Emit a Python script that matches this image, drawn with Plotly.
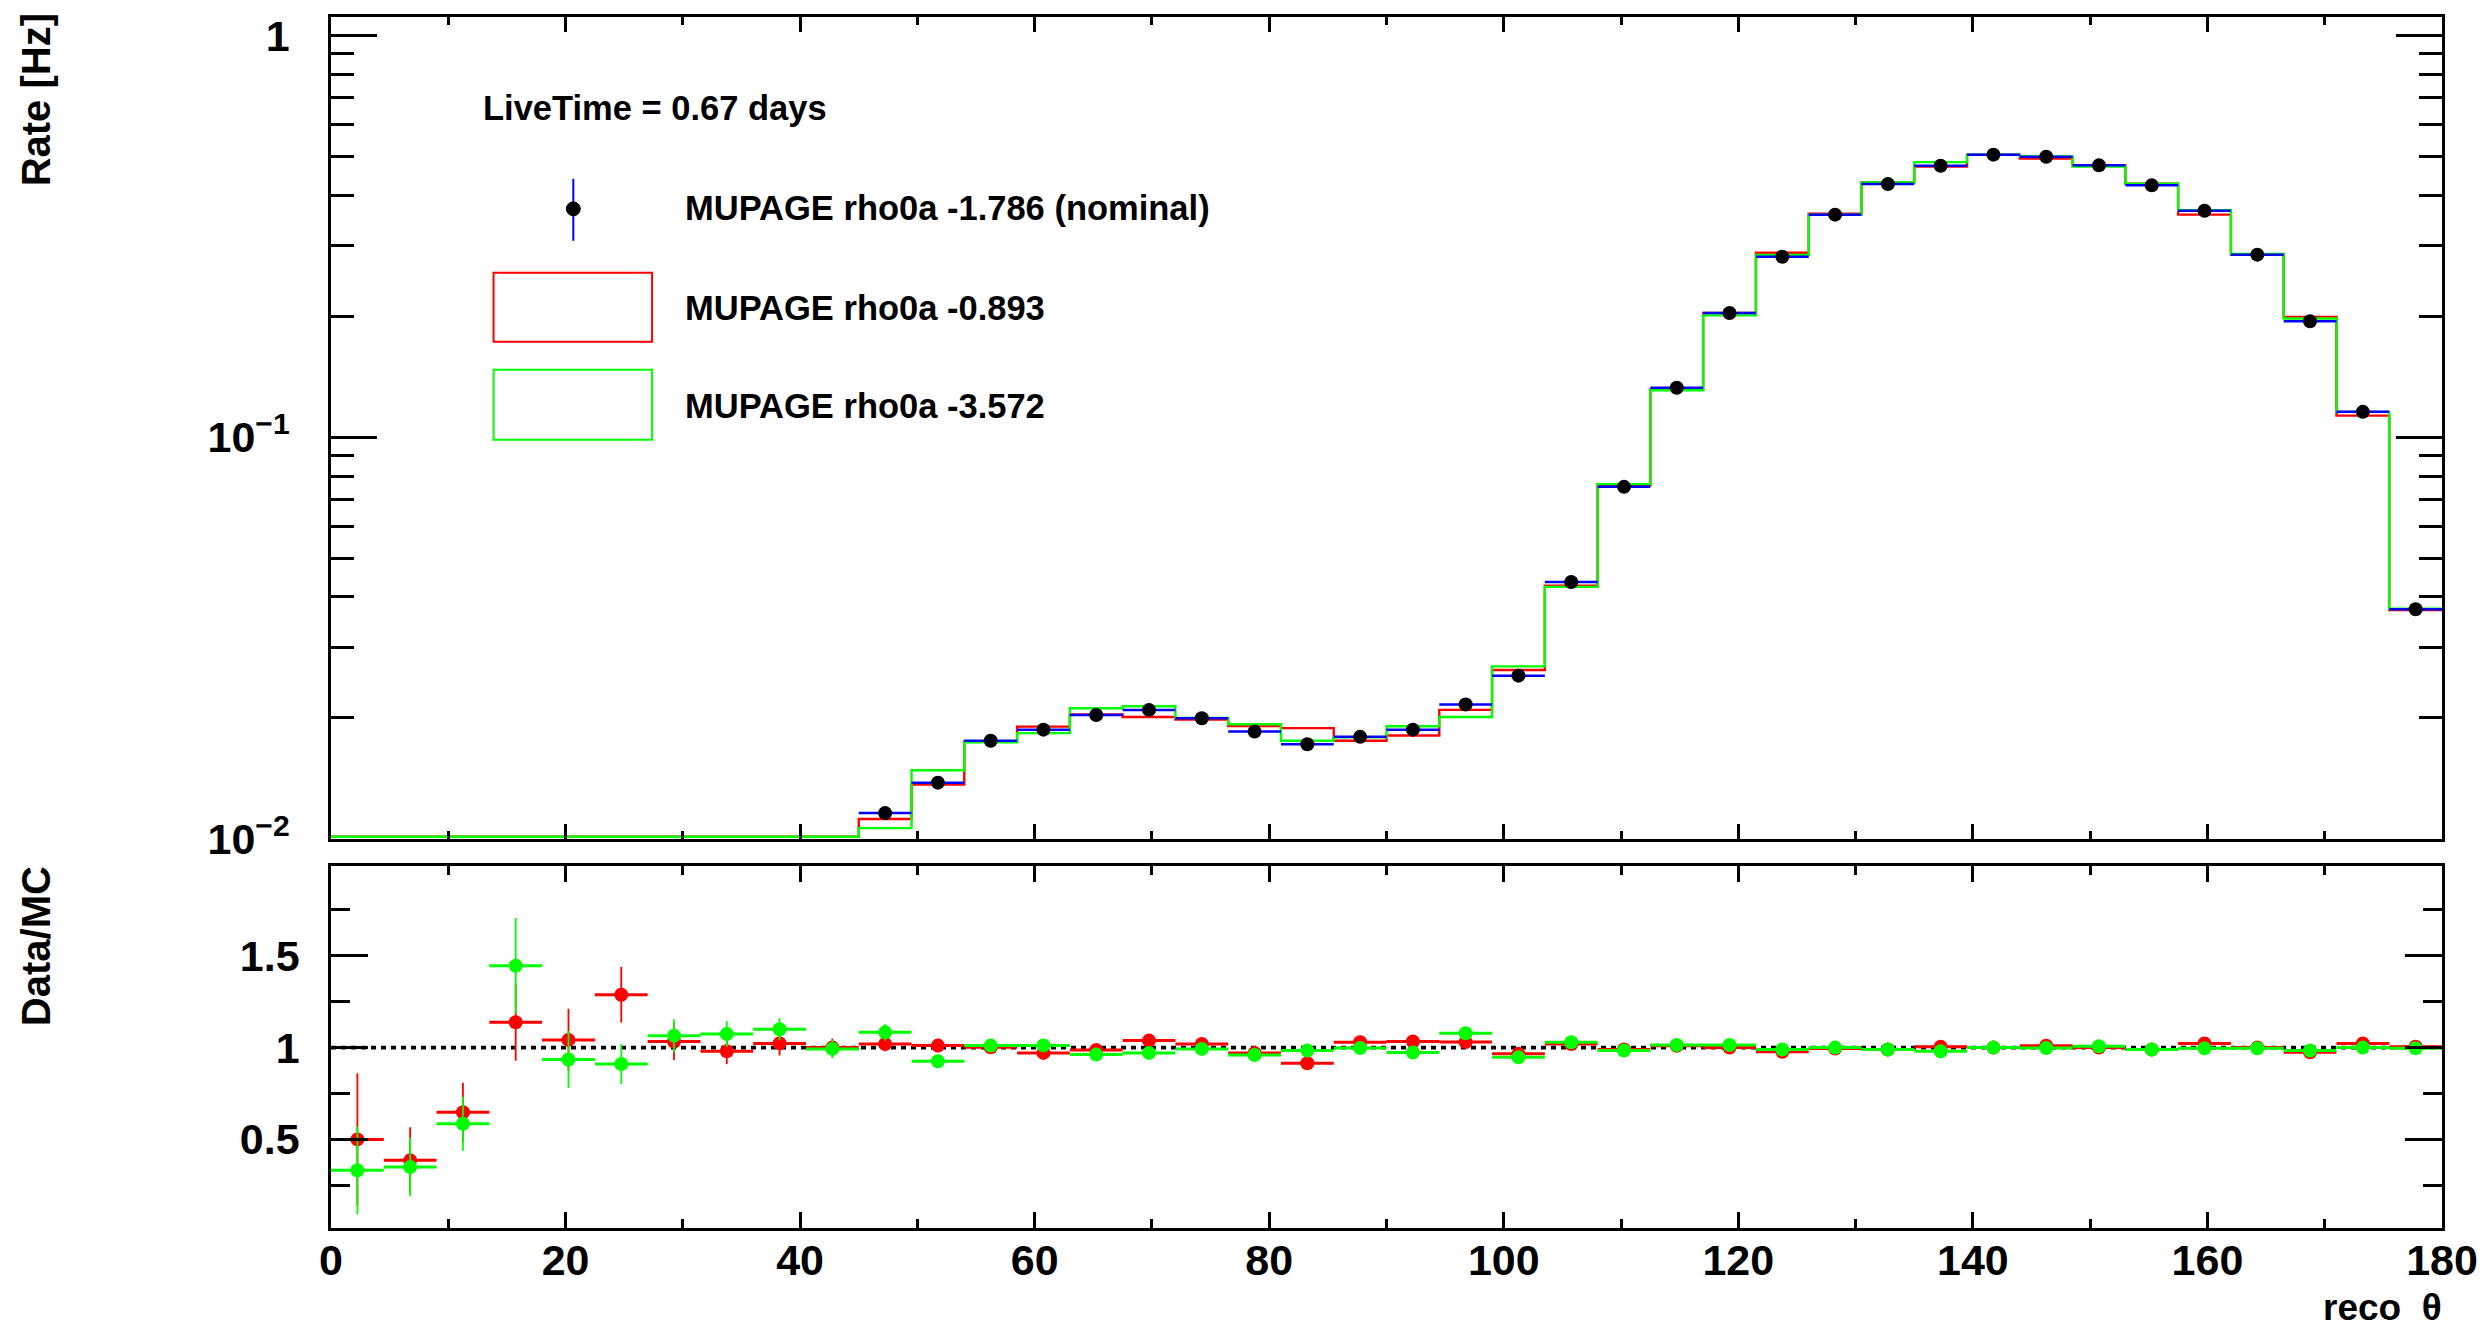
import numpy as np
import plotly.graph_objects as go

# ---------------- data ----------------
theta_lo, theta_hi, n_bins = 0.0, 180.0, 40
live_time_label = "LiveTime = 0.67 days"

rate_data = [3.5e-5, 8.0e-5, 2.8e-4, 5.3e-4, 6.4e-4, 1.2e-3, 1.8e-3, 3.4e-3, 4.1e-3, 6.9e-3,
             0.01159, 0.0138, 0.01754, 0.0187, 0.02034, 0.02094, 0.01996, 0.01849, 0.0172, 0.01794,
             0.0187, 0.0216, 0.02548, 0.0436, 0.0752, 0.1327, 0.2038, 0.2813, 0.358, 0.4266,
             0.474, 0.505, 0.499, 0.475, 0.4235, 0.366, 0.2847, 0.1943, 0.1156, 0.0373]
rate_data_err = [2.5e-5, 4e-5, 7e-5, 1e-4, 1.1e-4, 1.4e-4, 1.8e-4, 2.4e-4, 2.7e-4, 3.5e-4,
                 0.00045, 0.0005, 0.00055, 0.00057, 0.0006, 0.0006, 0.00059, 0.00057, 0.00055, 0.00056,
                 0.00057, 0.00061, 0.00066, 0.00087, 0.0011, 0.0015, 0.0019, 0.0022, 0.0025, 0.0027,
                 0.0029, 0.003, 0.003, 0.0029, 0.0027, 0.0025, 0.0022, 0.0018, 0.0014, 0.0008]
rate_red = [7.0e-5, 2.1e-4, 4.3e-4, 4.7e-4, 6.1e-4, 9.3e-4, 1.74e-3, 3.47e-3, 4.0e-3, 6.9e-3,
            0.0112, 0.01365, 0.0175, 0.01903, 0.0204, 0.0201, 0.0198, 0.0191, 0.01886, 0.01754,
            0.01808, 0.02094, 0.02632, 0.0427, 0.0760, 0.1314, 0.2038, 0.2879, 0.3598, 0.4309,
            0.4716, 0.505, 0.494, 0.475, 0.4278, 0.3581, 0.2847, 0.1993, 0.1131, 0.0371]
rate_green = [1.05e-4, 2.3e-4, 4.8e-4, 3.7e-4, 6.8e-4, 1.32e-3, 1.69e-3, 3.17e-3, 3.73e-3, 6.95e-3,
              0.01063, 0.01482, 0.0174, 0.01833, 0.02114, 0.02138, 0.0200, 0.01929, 0.01754, 0.0179,
              0.01906, 0.0201, 0.02688, 0.0424, 0.0764, 0.1309, 0.2010, 0.2841, 0.358, 0.4309,
              0.4837, 0.505, 0.500, 0.4717, 0.4278, 0.3675, 0.2858, 0.1975, 0.1156, 0.0374]

ratio_red = [0.50, 0.386, 0.648, 1.138, 1.042, 1.288, 1.033, 0.98, 1.023, 1.0,
             1.02, 1.011, 1.002, 0.971, 0.987, 1.038, 1.02, 0.97, 0.915, 1.029,
             1.033, 1.03, 0.966, 1.02, 0.99, 1.01, 1.0, 0.977, 0.995, 0.99,
             1.005, 1.0, 1.01, 1.0, 0.99, 1.022, 1.0, 0.975, 1.022, 1.005]
ratio_red_err = [0.36, 0.18, 0.16, 0.21, 0.17, 0.152, 0.10, 0.07, 0.066, 0.05,
                 0.04, 0.037, 0.034, 0.033, 0.032, 0.032, 0.033, 0.034, 0.034, 0.034,
                 0.033, 0.031, 0.028, 0.021, 0.016, 0.012, 0.01, 0.008, 0.008, 0.007,
                 0.007, 0.006, 0.006, 0.007, 0.007, 0.008, 0.009, 0.01, 0.013, 0.022]
ratio_green = [0.332, 0.35, 0.585, 1.446, 0.935, 0.911, 1.065, 1.074, 1.10, 0.993,
               1.083, 0.926, 1.011, 1.012, 0.962, 0.971, 0.993, 0.96, 0.984, 0.998,
               0.973, 1.078, 0.947, 1.029, 0.984, 1.014, 1.014, 0.99, 1.0, 0.99,
               0.98, 1.0, 0.998, 1.007, 0.99, 0.996, 0.996, 0.984, 1.0, 0.996]
ratio_green_err = [0.24, 0.16, 0.147, 0.26, 0.155, 0.11, 0.09, 0.07, 0.06, 0.05,
                   0.045, 0.036, 0.034, 0.033, 0.032, 0.032, 0.033, 0.034, 0.034, 0.034,
                   0.033, 0.031, 0.028, 0.021, 0.016, 0.012, 0.01, 0.008, 0.008, 0.007,
                   0.007, 0.006, 0.006, 0.007, 0.007, 0.008, 0.009, 0.01, 0.013, 0.022]

legend_labels = ["MUPAGE rho0a -1.786 (nominal)", "MUPAGE rho0a -0.893", "MUPAGE rho0a -3.572"]
x_ticks = [0, 20, 40, 60, 80, 100, 120, 140, 160, 180]
x_minor = [10, 30, 50, 70, 90, 110, 130, 150, 170]
y_ticks = [0.01, 0.1, 1]
y_ticktext = ["10<sup>\u22122</sup>", "10<sup>\u22121</sup>", "1"]
y_minor = [0.02, 0.03, 0.04, 0.05, 0.06, 0.07, 0.08, 0.09, 0.2, 0.3, 0.4, 0.5, 0.6, 0.7, 0.8, 0.9]
r_ticks = [0.5, 1, 1.5]
r_minor = [0.25, 0.75, 1.25, 1.75]

# ---------------- geometry ----------------
W, H = 2490, 1328
L, R, T, B = 331, 42, 16, 100
PW, PH = W - L - R, H - T - B
def xp(px):
    return (px - L) / PW
def yp(py):
    return (H - B - py) / PH

RED, GREEN, BLUE, BLACK = "#ff0000", "#00ff00", "#0000ff", "#000000"
FONT = "Liberation Sans, Arial, sans-serif"

edges = np.linspace(theta_lo, theta_hi, n_bins + 1)
centers = 0.5 * (edges[:-1] + edges[1:])
half = 0.5 * (edges[1] - edges[0])
y_min_top = 0.01

def step_y(vals):
    v = np.maximum(np.asarray(vals, dtype=float), y_min_top * 1.012)
    return np.append(v, v[-1])

fig = go.Figure()

# top panel
fig.add_trace(go.Scatter(x=edges, y=step_y(rate_red), mode="lines", line_shape="hv",
                         line=dict(color=RED, width=2.4), xaxis="x", yaxis="y", showlegend=False))
fig.add_trace(go.Scatter(x=edges, y=step_y(rate_green), mode="lines", line_shape="hv",
                         line=dict(color=GREEN, width=2.4), xaxis="x", yaxis="y", showlegend=False))
fig.add_trace(go.Scatter(x=centers, y=rate_data, mode="markers",
                         marker=dict(color=BLACK, size=14),
                         error_x=dict(type="constant", value=half, color=BLUE, thickness=2.5, width=0),
                         error_y=dict(type="data", array=rate_data_err, color=BLUE, thickness=1.5, width=0),
                         xaxis="x", yaxis="y", showlegend=False))

# ratio panel
fig.add_trace(go.Scatter(x=[theta_lo, theta_hi], y=[1, 1], mode="lines",
                         line=dict(color=BLACK, width=3.8, dash="5px,5px"),
                         xaxis="x2", yaxis="y2", showlegend=False))
fig.add_trace(go.Scatter(x=centers, y=ratio_red, mode="markers",
                         marker=dict(color=RED, size=14),
                         error_x=dict(type="constant", value=half, color=RED, thickness=3, width=0),
                         error_y=dict(type="data", array=ratio_red_err, color=RED, thickness=1.8, width=0),
                         xaxis="x2", yaxis="y2", showlegend=False))
fig.add_trace(go.Scatter(x=centers, y=ratio_green, mode="markers",
                         marker=dict(color=GREEN, size=14),
                         error_x=dict(type="constant", value=half, color=GREEN, thickness=3, width=0),
                         error_y=dict(type="data", array=ratio_green_err, color=GREEN, thickness=1.8, width=0),
                         xaxis="x2", yaxis="y2", showlegend=False))

tickfont = dict(family=FONT, size=43, color=BLACK, weight="bold")
common = dict(showline=True, linecolor=BLACK, linewidth=2.5, mirror="allticks",
              ticks="inside", tickcolor=BLACK, tickwidth=2.5, showgrid=False, zeroline=False)

top_dom = [yp(838.5), 1.0]
bot_dom = [0.0, yp(866)]

fig.update_layout(
    width=W, height=H,
    margin=dict(l=L, r=R, t=T, b=B, pad=0),
    paper_bgcolor="white", plot_bgcolor="white",
    font=dict(family=FONT, color=BLACK),
    showlegend=False,
    xaxis=dict(domain=[0, 1], range=[theta_lo, theta_hi], anchor="y",
               tickvals=x_ticks, showticklabels=False, ticklen=15,
               minor=dict(tickvals=x_minor, ticks="inside", ticklen=8, tickwidth=2.5, tickcolor=BLACK),
               **common),
    yaxis=dict(domain=top_dom, type="log", range=[-2, 0.046], anchor="x",
               tickvals=y_ticks, ticktext=y_ticktext, ticklen=46, tickfont=tickfont,
               ticklabelstandoff=30,
               minor=dict(tickvals=y_minor, ticks="inside", ticklen=23, tickwidth=2.5, tickcolor=BLACK),
               **common),
    xaxis2=dict(domain=[0, 1], range=[theta_lo, theta_hi], anchor="y2",
                tickvals=x_ticks, ticktext=[str(v) for v in x_ticks], ticklen=16,
                tickfont=tickfont, ticklabelstandoff=-7,
                minor=dict(tickvals=x_minor, ticks="inside", ticklen=9, tickwidth=2.5, tickcolor=BLACK),
                **common),
    yaxis2=dict(domain=bot_dom, range=[0.0174, 1.9875], anchor="x2",
                tickvals=r_ticks, ticktext=["0.5", "1", "1.5"], ticklen=37, tickfont=tickfont,
                ticklabelstandoff=20,
                minor=dict(tickvals=r_minor, ticks="inside", ticklen=19, tickwidth=2.5, tickcolor=BLACK),
                **common),
)

ann_font = dict(family=FONT, size=34.5, color=BLACK, weight="bold")
title_font = dict(family=FONT, size=40, color=BLACK, weight="bold")
annotations = [
    dict(text=live_time_label, x=xp(481), y=yp(107), xanchor="left", yanchor="middle", font=ann_font),
    dict(text=legend_labels[0], x=xp(684), y=yp(207), xanchor="left", yanchor="middle", font=ann_font),
    dict(text=legend_labels[1], x=xp(684), y=yp(307), xanchor="left", yanchor="middle", font=ann_font),
    dict(text=legend_labels[2], x=xp(684), y=yp(405), xanchor="left", yanchor="middle", font=ann_font),
    dict(text="Rate [Hz]", x=xp(35), y=yp(10), xanchor="center", yanchor="top", textangle=-90, font=title_font),
    dict(text="Data/MC", x=xp(35), y=yp(864), xanchor="center", yanchor="top", textangle=-90, font=title_font),
    dict(text="reco  \u03b8", x=xp(2450), y=yp(1308), xanchor="right", yanchor="middle",
         font=dict(family=FONT, size=37, color=BLACK, weight="bold")),
]
for a in annotations:
    a.update(xref="paper", yref="paper", showarrow=False)
fig.update_layout(annotations=annotations)

shapes = [
    # nominal legend entry: blue error bar + black marker
    dict(type="line", x0=xp(574), x1=xp(574), y0=yp(178), y1=yp(240), line=dict(color=BLUE, width=2)),
    dict(type="circle", x0=xp(567), x1=xp(581), y0=yp(201), y1=yp(215), fillcolor=BLACK, line=dict(color=BLACK, width=1)),
    # red and green boxes
    dict(type="rect", x0=xp(494), x1=xp(653), y0=yp(272), y1=yp(341), line=dict(color=RED, width=2)),
    dict(type="rect", x0=xp(494), x1=xp(653), y0=yp(369), y1=yp(439), line=dict(color=GREEN, width=2)),
]
for s in shapes:
    s.update(xref="paper", yref="paper")
fig.update_layout(shapes=shapes)

fig.write_html("out.html", config={"displayModeBar": False},
               post_script="document.body.style.margin='0';document.body.style.padding='0';document.body.style.overflow='hidden';")
